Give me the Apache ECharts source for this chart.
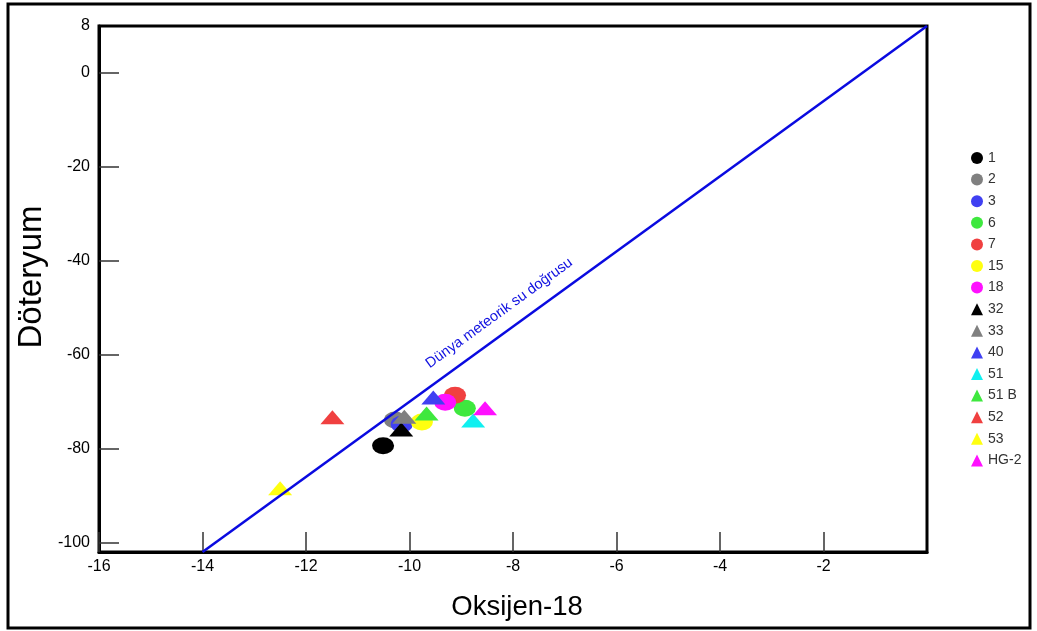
<!DOCTYPE html>
<html>
<head>
<meta charset="utf-8">
<script src="https://cdn.jsdelivr.net/npm/echarts@6/dist/echarts.min.js"></script>
<style>html,body{margin:0;padding:0;background:#fff}#c{width:1037px;height:631px}</style>
</head>
<body>
<div id="c"></div>
<script>
// sample names, marker shapes, colours
const names   = ['1','2','3','6','7','15','18','32','33','40','51','51 B','52','53','HG-2'];
const shapes  = ['circle','circle','circle','circle','circle','circle','circle','triangle','triangle','triangle','triangle','triangle','triangle','triangle','triangle'];
const colors  = ['#000000','#808080','#4040f2','#3ee83e','#f04040','#ffff10','#ff10ff','#000000','#808080','#4040f2','#10f0f0','#3ee83e','#f04040','#ffff10','#ff10ff'];
// Oksijen-18 (x) values
const oxygen18 = [-10.51,-10.28,-10.15,-8.93,-9.12,-9.76,-9.31,-10.16,-10.10,-9.54,-8.77,-9.67,-11.49,-12.50,-8.54];
// Döteryum (y) values
const deuterium = [-79.4,-73.9,-74.8,-71.4,-68.6,-74.3,-70.1,-75.9,-73.2,-69.1,-74.0,-72.5,-73.3,-88.4,-71.4];
// meteoric water line end points
const lineX = [-14, 0];
const lineY = [-102, 10];
const yTickValues  = [-100,-80,-60,-40,-20,0];
const yLabelValues = [-100,-80,-60,-40,-20,0,10];
const yLabelTexts  = {'-100':'-100','-80':'-80','-60':'-60','-40':'-40','-20':'-20','0':'0','10':'8'};
const lineLabel = 'Dünya meteorik su doğrusu';

const chart = echarts.init(document.getElementById('c'), null, {renderer:'canvas'});
const font = 'Liberation Sans, Arial, sans-serif';

const series = names.map((n,i)=>({
  name:n, type:'scatter',
  symbol: shapes[i],
  symbolSize: shapes[i]==='circle' ? [22,17] : [24,14],
  itemStyle:{color:colors[i], opacity:1},
  data:[[oxygen18[i], deuterium[i]]],
  z: 3
}));
series.unshift({
  name:'line', type:'line', silent:true, symbol:'none',
  lineStyle:{color:'#0a0ae0', width:2.5},
  data: lineX.map((x,i)=>[x, lineY[i]]),
  z: 4
});

chart.setOption({
  animation:false,
  backgroundColor:'#fff',
  grid:{left:99, right:110, top:26, bottom:79, show:true, borderColor:'#000', borderWidth:3, backgroundColor:'transparent'},
  xAxis:{
    type:'value', min:-16, max:0, interval:2,
    name:'Oksijen-18', nameLocation:'middle', nameGap:41,
    nameTextStyle:{fontFamily:font, fontSize:27.5, color:'#000', padding:[0,0,0,8]},
    axisLine:{onZero:false, lineStyle:{color:'#000', width:3}},
    axisTick:{inside:true, length:20, lineStyle:{color:'#333', width:1.5}},
    axisLabel:{fontFamily:font, fontSize:16, color:'#000', margin:7, showMaxLabel:false},
    splitLine:{show:false}
  },
  yAxis:{
    type:'value', min:-102, max:10,
    name:'Döteryum', nameLocation:'middle', nameGap:51, nameRotate:90, nameMoveOverlap:false,
    nameTextStyle:{fontFamily:font, fontSize:33, color:'#000', padding:[0,0,0,24]},
    axisLine:{onZero:false, lineStyle:{color:'#000', width:3}},
    axisTick:{inside:true, length:20, customValues:yTickValues, lineStyle:{color:'#333', width:1.5}},
    axisLabel:{fontFamily:font, fontSize:16, color:'#000', margin:9, customValues:yLabelValues,
      formatter:v=>yLabelTexts[String(Math.round(v))] ?? String(v)},
    splitLine:{show:false}
  },
  legend:{
    orient:'vertical', left:966, top:146,
    data: names.map((n,i)=>({name:n, icon:shapes[i]})),
    itemWidth:12, itemHeight:12, itemGap:7.6,
    textStyle:{fontFamily:font, fontSize:14, color:'#333'}
  },
  series: series
});

// rotated label along the meteoric water line
const p0 = chart.convertToPixel({gridIndex:0}, [lineX[0], lineY[0]]);
const p1 = chart.convertToPixel({gridIndex:0}, [lineX[1], lineY[1]]);
const ang = Math.atan2(p0[1]-p1[1], p1[0]-p0[0]);
const t = 0.425;
const mx = p0[0] + (p1[0]-p0[0])*t, my = p0[1] + (p1[1]-p0[1])*t;
const off = 19;
const lx = mx - Math.sin(ang)*off, ly = my - Math.cos(ang)*off;

chart.setOption({
  graphic:[
    {type:'rect', shape:{x:8, y:4, width:1022, height:624}, style:{fill:'none', stroke:'#000', lineWidth:3}, z:10},
    {type:'text', x:lx, y:ly, rotation:ang, style:{text:lineLabel, fill:'#1010e0', font:'14.5px '+font, align:'center', verticalAlign:'middle'}, z:10}
  ]
});
</script>
</body>
</html>
